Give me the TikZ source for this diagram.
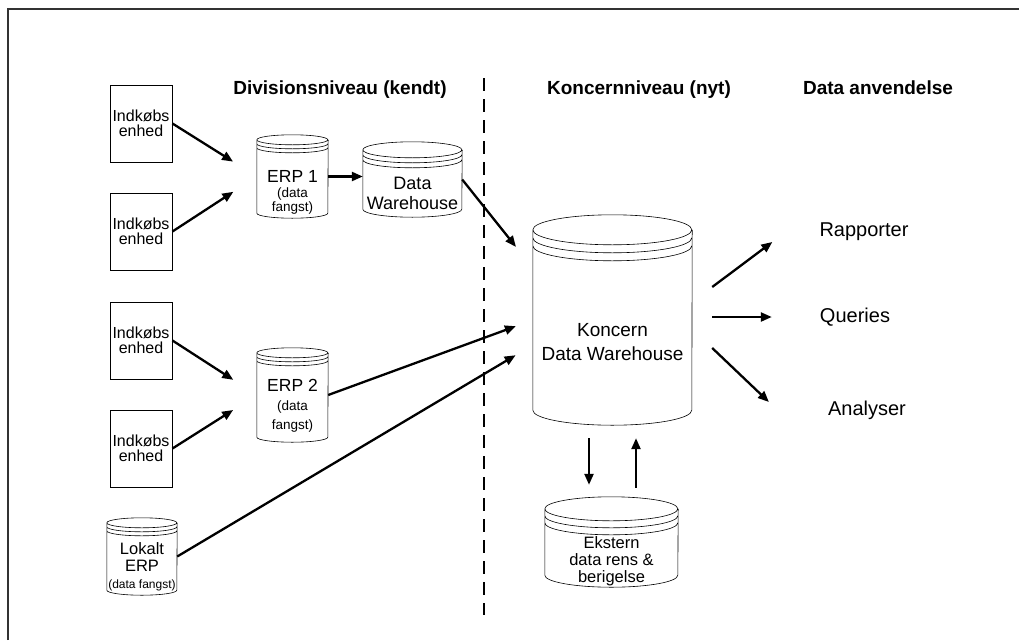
\documentclass[tikz,border=0pt]{standalone}
\usepackage{fontspec}
\setmainfont{Liberation Sans}
\usetikzlibrary{arrows.meta, positioning}

% database drum drawn round an empty node: node, x radius, y radius, rim gap
\newcommand{\drum}[4]{%
  \draw[drumline] ([yshift=-#3pt]#1.north west)
      arc[start angle=180, end angle=-180, x radius=#2pt, y radius=#3pt]
    ([yshift=-#3pt-#4pt]#1.north west)
      arc[start angle=180, end angle=360, x radius=#2pt, y radius=#3pt]
    ([yshift=-#3pt-2*#4pt]#1.north west)
      arc[start angle=180, end angle=360, x radius=#2pt, y radius=#3pt]
    ([yshift=-#3pt]#1.north west) -- ([yshift=#3pt]#1.south west)
      arc[start angle=180, end angle=360, x radius=#2pt, y radius=#3pt]
      -- ([yshift=-#3pt]#1.north east);}
\newcommand{\captxt}{\fontsize{13.5}{14}\selectfont}

\begin{document}
\begin{tikzpicture}[x=1pt, y=-1pt,
    unitbox/.style={draw, line width=0.9pt, minimum width=62pt, minimum height=77pt,
                    inner sep=0pt, align=center, font=\fontsize{16}{15.5}\selectfont},
    drumbody/.style={inner sep=0pt},
    drumline/.style={line width=0.6pt},
    drumtext/.style={inner sep=0pt, align=center},
    flow/.style={-{Triangle[length=11pt,width=9pt]}, line width=2.3pt},
    head/.style={anchor=base, font=\fontsize{19}{21}\selectfont\bfseries},
    usage/.style={font=\fontsize{20}{22}\selectfont, inner sep=0pt}]
  \useasboundingbox (0,0) rectangle (1019,640);

  % Frame and level divider
  \draw[line width=1.6pt, black!80] (8,640) -- (8,9) -- (1019,9);
  \draw[line width=1.2pt, dash pattern=on 13pt off 8pt] (484,78) -- (484,615);

  % Headings
  \node[head] (hdiv) at (340,94) {Divisionsniveau (kendt)};
  \node[head] (hkon) at (639,94) {Koncernniveau (nyt)};
  \node[head] (hbrug) at (878,94) {Data anvendelse};

  % Purchasing units
  \node[unitbox] (unitA) at (141,123.5) {Indkøbs\\enhed};
  \node[unitbox] (unitB) at (141,231.5) {Indkøbs\\enhed};
  \node[unitbox] (unitC) at (141,340.5) {Indkøbs\\enhed};
  \node[unitbox] (unitD) at (141,448.5) {Indkøbs\\enhed};

  % Division databases
  \node[drumbody, minimum width=71pt, minimum height=83pt] (erpA) at (292.5,176.5) {};
  \drum{erpA}{35.5}{5}{4}
  \node[drumtext, font=\fontsize{17.5}{14.5}\selectfont] (erpAtxt) at ([yshift=-16pt]erpA.center)
    {ERP 1\\\captxt (data\\\captxt fangst)};

  \node[drumbody, minimum width=99pt, minimum height=75pt] (dwA) at (412.5,179.5) {};
  \drum{dwA}{49.5}{8}{5}
  \node[drumtext, font=\fontsize{18}{20}\selectfont] (dwAtxt) at ([yshift=-13.5pt]dwA.center)
    {Data\\Warehouse};

  \node[drumbody, minimum width=71pt, minimum height=94pt] (erpB) at (292.5,395) {};
  \drum{erpB}{35.5}{5}{4}
  \node[drumtext, font=\fontsize{17.5}{19}\selectfont] (erpBtxt) at ([yshift=-11pt]erpB.center)
    {ERP 2\\\captxt (data\\\captxt fangst)};

  \node[drumbody, minimum width=70pt, minimum height=77pt] (lokal) at (142,556.5) {};
  \drum{lokal}{35}{5}{4}
  \node[drumtext, font=\fontsize{16.5}{17}\selectfont] (lokaltxt) at ([yshift=-10.5pt]lokal.center)
    {Lokalt\\ERP\\\fontsize{12}{17}\selectfont (data fangst)};

  % Group level
  \node[drumbody, minimum width=159pt, minimum height=210pt] (kdw) at (612.5,320) {};
  \drum{kdw}{79.5}{15}{8}
  \node[drumtext, font=\fontsize{19}{24}\selectfont] (kdwtxt) at ([yshift=-22pt]kdw.center)
    {Koncern\\Data Warehouse};

  \node[drumbody, minimum width=133pt, minimum height=90pt] (ext) at (611.5,542) {};
  \drum{ext}{66.5}{12}{7}
  \node[drumtext, font=\fontsize{16.5}{17}\selectfont] (exttxt) at ([yshift=-19pt]ext.center)
    {Ekstern\\data rens \&\\berigelse};

  % Usage
  \node[usage] (rap) at (864,232) {Rapporter};
  \node[usage] (qry) at (855,317) {Queries};
  \node[usage] (ana) at (867,410) {Analyser};

  % Connectors
  \draw[flow, shorten >=28pt] (unitA.east) -- (erpA.west);
  \draw[flow, shorten >=28pt] (unitB.east) -- (erpA.west);
  \draw[flow, shorten >=28pt] (unitC.east) -- (erpB.west);
  \draw[flow, shorten >=28pt] (unitD.east) -- (erpB.west);
  \draw[flow] (erpA.east) -- (erpA.east -| dwA.west);
  \draw[flow, shorten >=27pt] (dwA.east) -- ([yshift=52pt]kdw.west);
  \draw[flow, shorten >=18pt] (erpB.east) -- (kdw.west);
  \draw[flow, shorten >=20pt] (lokal.east) -- ([yshift=-25pt]kdw.west);

  \draw[flow] ([xshift=20pt,yshift=33pt]kdw.east) -- ([xshift=-47pt,yshift=-10pt]rap.west);
  \draw[flow, shorten <=20pt, shorten >=48pt] (kdw.east |- qry.west) -- (qry.west);
  \draw[flow] ([xshift=20pt,yshift=-28pt]kdw.east) -- ([xshift=-59pt,yshift=8pt]ana.west);

  \draw[flow] ([xshift=-23.5pt,yshift=-13pt]kdw.south) -- ([xshift=-22.5pt,yshift=12pt]ext.north);
  \draw[flow] ([xshift=24.5pt,yshift=9pt]ext.north) -- ([xshift=23.5pt,yshift=-13pt]kdw.south);
\end{tikzpicture}
\end{document}
